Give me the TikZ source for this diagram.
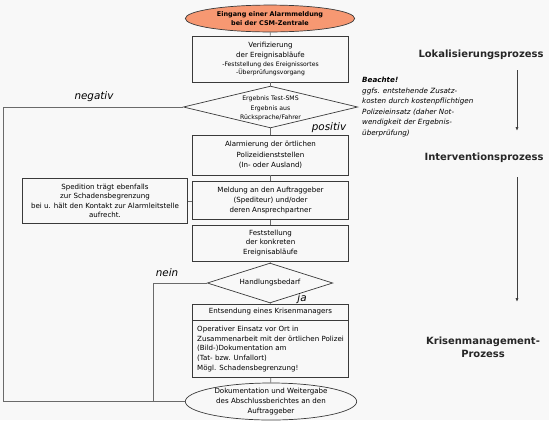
\documentclass[tikz,border=0pt]{standalone}
\usepackage{fontspec}
\setmainfont{DejaVu Sans}
\usetikzlibrary{shapes.geometric,arrows.meta}
\definecolor{bgc}{HTML}{F8F8F8}
\definecolor{orangefill}{HTML}{F79872}
\definecolor{boxline}{HTML}{3A3A3A}
\definecolor{conn}{HTML}{6A6A6A}
\newcommand\ftxt{\fontsize{7.1}{10.4}\selectfont}
\newcommand\fsmall{\fontsize{6.1}{9.3}\selectfont}
\newcommand\fdia{\fontsize{6.2}{9.5}\selectfont}
\newcommand\ftop{\fontsize{6.5}{9}\selectfont\bfseries}
\newcommand\flab{\fontsize{10}{12.5}\selectfont\bfseries}
\newcommand\fnote{\fontsize{7.2}{10.6}\selectfont\itshape}
\newcommand\fcase{\fontsize{10.4}{12}\selectfont\itshape}
\begin{document}
\begin{tikzpicture}[x=1bp,y=-1bp,
  box/.style={draw=boxline, line width=0.7pt, inner sep=0, align=center, font=\ftxt, minimum width=156},
  dia/.style={diamond, draw=boxline, line width=0.7pt, inner sep=0},
  oval/.style={ellipse, draw=boxline, line width=0.7pt, inner sep=0, align=center},
  conline/.style={draw=conn, line width=0.8pt},
  caselab/.style={font=\fcase, inner sep=0},
  proclab/.style={font=\flab, text=black!85, inner sep=0, align=center},
  procarrow/.style={draw=black!75, line width=0.8pt, -{Latex[length=4,width=3.2]}}
]
\fill[bgc] (0,0) rectangle (549,420);
\useasboundingbox (0,0) rectangle (549,420);

% main flow
\node[oval, fill=orangefill, minimum width=170, minimum height=27, font=\ftop] (start) at (270,18.5)
  {Eingang einer Alarmmeldung\\bei der CSM-Zentrale};
\node[box, minimum width=157, minimum height=46] (verif) at (270.5,59)
  {Verifizierung\\der Ereignisabläufe\\[-1.5pt]{\fsmall -Feststellung des Ereignissortes}\\[-2pt]{\fsmall -Überprüfungsvorgang}};
\node[dia, minimum width=175, minimum height=42, label={[font=\fdia, align=center, inner sep=0, yshift=-1.5]center:Ergebnis Test-SMS\\Ergebnis aus\\Rücksprache/Fahrer}] (d1) at (270.5,107) {};
\node[box, minimum height=40] (alarm) at (270.5,155)
  {Alarmierung der örtlichen\\Polizeidienststellen\\(In- oder Ausland)};
\node[box, minimum height=38] (meld) at (270.5,200.5)
  {Meldung an den Auftraggeber\\(Spediteur) und/oder\\deren Ansprechpartner};
\node[box, minimum width=166, minimum height=45, font=\fontsize{7.1}{9.5}\selectfont] (sped) at (105,201)
  {Spedition trägt ebenfalls\\zur Schadensbegrenzung\\bei u. hält den Kontakt zur Alarmleitstelle\\aufrecht.};
\node[box, minimum height=36, font=\fontsize{7.1}{9.7}\selectfont] (fest) at (270.5,243)
  {Feststellung\\der konkreten\\Ereignisabläufe};
\node[dia, minimum width=126, minimum height=40, label={[font=\ftxt, inner sep=0]center:Handlungsbedarf}] (d2) at (270,283) {};
\node[box, minimum height=16] (krA) at (270.5,312) {Entsendung eines Krisenmanagers};
\node[box, minimum height=57, inner xsep=4, align=left, font=\fontsize{7.1}{10}\selectfont] (krB) at (270.5,349)
  {Operativer Einsatz vor Ort in\\Zusammenarbeit mit der örtlichen Polizei\\(Bild-)Dokumentation am\\(Tat- bzw. Unfallort)\\Mögl. Schadensbegrenzung!};
\node[oval, minimum width=172, minimum height=33, font=\fontsize{7.1}{9.7}\selectfont] (doku) at (271,401.5)
  {Dokumentation und Weitergabe\\des Abschlussberichtes an den\\Auftraggeber};

% helper coordinates for the return lines
\coordinate (negx) at (3,0);
\coordinate (neinx) at (153,0);

% connectors
\draw[conline] (start) -- (verif);
\draw[conline] (verif) -- (d1);
\draw[conline] (d1) -- (alarm);
\draw[conline] (alarm) -- (meld);
\draw[conline] (meld) -- (fest);
\draw[conline] (fest) -- (d2);
\draw[conline] (d2) -- (krA);
\draw[conline] (krB) -- (doku);
\draw[conline] (sped.east) -- (sped.east -| meld.west);
\draw[conline] (d1.west) -- (d1.west -| negx) |- (doku.west);
\draw[conline] (d2.west) -| (doku.west -| neinx);

% case labels
\node[caselab] (lneg) at (94,96.5) {negativ};
\node[caselab] (lpos) at (329,128) {positiv};
\node[caselab] (lnein) at (167,272.5) {nein};
\node[caselab] (lja) at (302,298.5) {ja};

% process labels
\node[proclab] (lok) at (481,55) {Lokalisierungsprozess};
\node[proclab] (int) at (484,158) {Interventionsprozess};
\node[proclab] (kri) at (483,347.5) {Krisenmanagement-\\Prozess};
\coordinate (a1s) at (517,70);
\coordinate (a1e) at (517,131);
\coordinate (a2s) at (517,177);
\coordinate (a2e) at (517,302);
\draw[procarrow] (a1s) -- (a1e);
\draw[procarrow] (a2s) -- (a2e);

% note
\node[anchor=north west, font=\fnote, align=left, inner sep=0] (note) at (362,77)
  {\textbf{Beachte!}\\ggfs. entstehende Zusatz-\\kosten durch kostenpflichtigen\\Polizeieinsatz (daher Not-\\wendigkeit der Ergebnis-\\überprüfung)};
\end{tikzpicture}
\end{document}
